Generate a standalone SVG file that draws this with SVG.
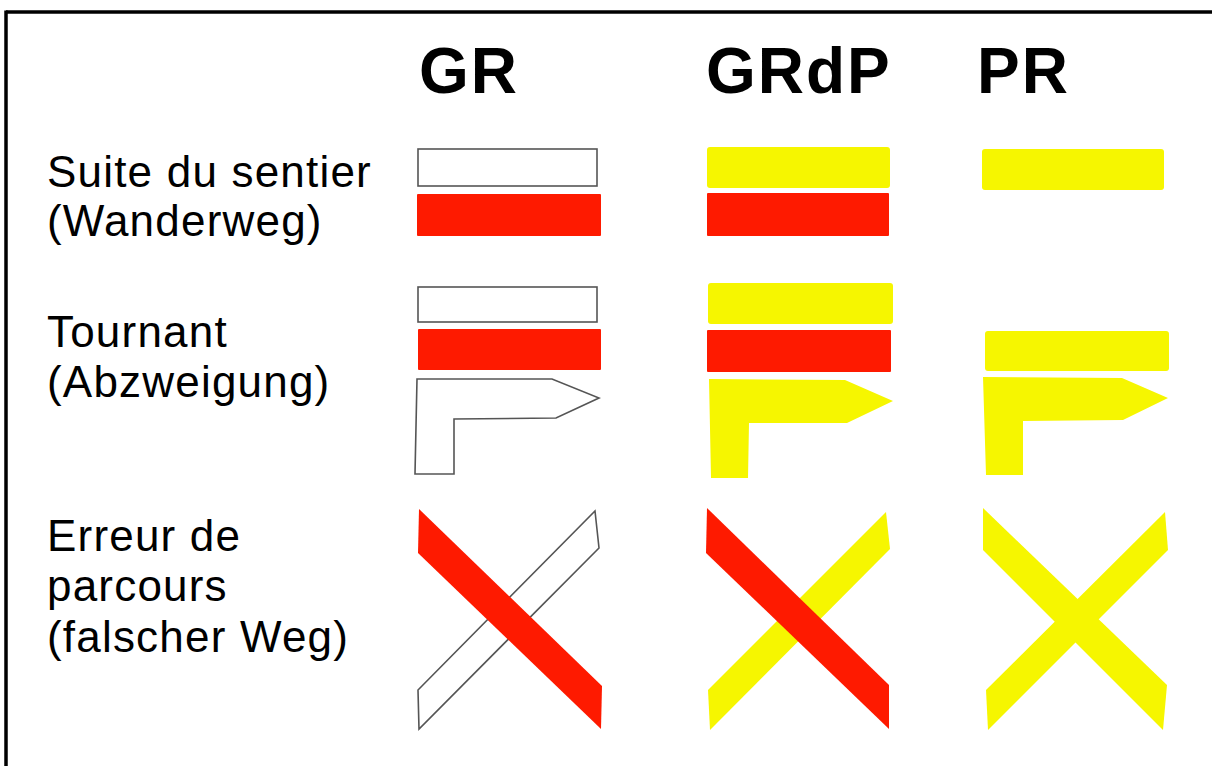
<svg xmlns="http://www.w3.org/2000/svg" width="1212" height="766" viewBox="0 0 1212 766">
  <style>
    .head { font-family: "Liberation Sans", Arial, sans-serif; font-weight: bold; font-size: 64px; letter-spacing: 2px; fill: #000; }
    .label { font-family: "Liberation Sans", Arial, sans-serif; font-size: 44px; letter-spacing: 1.2px; fill: #000; }
    .red { fill: #fe1a00; }
    .yellow { fill: #f6f600; }
    .outline { fill: #fff; stroke: #555; stroke-width: 1.6; stroke-linejoin: miter; }
  </style>

  <!-- background and frame -->
  <rect x="0" y="0" width="1212" height="766" fill="#fff"/>
  <g id="frame" fill="none" stroke="#000" stroke-width="3.5">
    <line x1="6" y1="12" x2="1212" y2="12"/>
    <line x1="6" y1="10.5" x2="6" y2="766"/>
  </g>

  <!-- column headings -->
  <g id="headings">
    <text class="head" x="419" y="93">GR</text>
    <text class="head" x="706" y="93">GRdP</text>
    <text class="head" x="977" y="93">PR</text>
  </g>

  <!-- row labels -->
  <g id="label-suite">
    <text class="label" x="47" y="187">Suite du sentier</text>
    <text class="label" x="47" y="236">(Wanderweg)</text>
  </g>
  <g id="label-tournant">
    <text class="label" x="47" y="347">Tournant</text>
    <text class="label" x="47" y="397">(Abzweigung)</text>
  </g>
  <g id="label-erreur">
    <text class="label" x="47" y="551">Erreur de</text>
    <text class="label" x="47" y="601">parcours</text>
    <text class="label" x="47" y="652">(falscher Weg)</text>
  </g>

  <!-- row 1: path continues -->
  <g id="gr-suite">
    <rect class="outline" x="418" y="149" width="179" height="37"/>
    <rect class="red" x="417" y="194" width="184" height="42" rx="1"/>
  </g>
  <g id="grdp-suite">
    <rect class="yellow" x="707" y="147" width="183" height="41" rx="3"/>
    <rect class="red" x="707" y="193" width="182" height="43" rx="1"/>
  </g>
  <g id="pr-suite">
    <rect class="yellow" x="982" y="149" width="182" height="41" rx="3"/>
  </g>

  <!-- row 2: turn -->
  <g id="gr-tournant">
    <rect class="outline" x="418" y="287" width="179" height="35"/>
    <rect class="red" x="418" y="329" width="183" height="41" rx="1"/>
    <polygon class="outline" points="417,379 552,379 599,398 556,418 454,419 454,474 415,474"/>
  </g>
  <g id="grdp-tournant">
    <rect class="yellow" x="708" y="283" width="185" height="41" rx="3"/>
    <rect class="red" x="707" y="330" width="184" height="42" rx="1"/>
    <polygon class="yellow" points="709,379 845,380 893,401 847,423 749,423 748,478 711,478"/>
  </g>
  <g id="pr-tournant">
    <rect class="yellow" x="985" y="331" width="184" height="40" rx="3"/>
    <polygon class="yellow" points="983,377 1122,378 1168,398 1123,420 1023,421 1023,475 986,475"/>
  </g>

  <!-- row 3: wrong way -->
  <g id="gr-erreur">
    <polygon class="outline" points="595,511 599,548 419,729 418,690"/>
    <polygon class="red" points="419,509 602,686 601,729 418,553"/>
  </g>
  <g id="grdp-erreur">
    <polygon class="yellow" points="886,512 890,549 710,730 708,690"/>
    <polygon class="red" points="707,508 889,685 889,729 706,553"/>
  </g>
  <g id="pr-erreur">
    <polygon class="yellow" points="983,508 1167,685 1163,730 983,550"/>
    <polygon class="yellow" points="1165,512 1168,550 988,730 986,690"/>
  </g>
</svg>
